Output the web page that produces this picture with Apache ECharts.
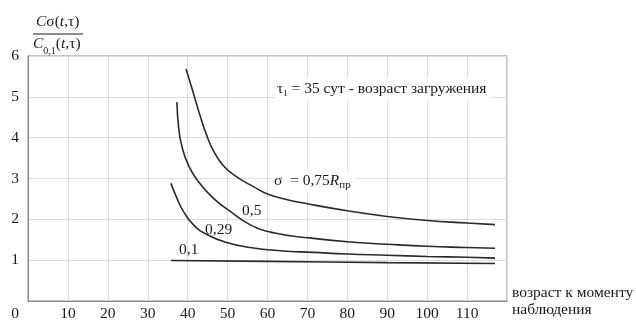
<!DOCTYPE html>
<html><head><meta charset="utf-8">
<script src="https://cdn.jsdelivr.net/npm/echarts@6/dist/echarts.min.js"></script>
<style>html,body{margin:0;padding:0;background:#fff}#c{width:636px;height:322px}</style>
</head><body><div id="c"></div>
<script>
// x-axis: age at observation (days); y-axis: ratio C_sigma / C_0.1
const xMin = 0, xMax = 120, xStep = 10;
const yMin = 0, yMax = 6, yStep = 1;

const age075 = [39.6, 41.4, 43.1, 44.8, 46.4, 48.9, 52.3, 56.5, 60, 65, 70, 80, 90, 100, 110, 117];
const val075 = [5.68, 5.10, 4.54, 4.05, 3.69, 3.32, 3.04, 2.80, 2.62, 2.48, 2.38, 2.21, 2.07, 1.97, 1.91, 1.87];

const age05 = [37.3, 37.7, 38.5, 40.2, 42.7, 46.4, 50.6, 55.6, 61.5, 70, 80, 90, 100, 110, 117];
const val05 = [4.87, 4.29, 3.81, 3.32, 2.92, 2.52, 2.20, 1.87, 1.67, 1.55, 1.45, 1.39, 1.34, 1.31, 1.29];

const age029 = [35.8, 37.3, 38.9, 41.4, 44.8, 49.8, 55.6, 63.2, 71.5, 80, 90, 100, 110, 117];
const val029 = [2.88, 2.52, 2.20, 1.87, 1.63, 1.43, 1.31, 1.23, 1.19, 1.15, 1.12, 1.09, 1.07, 1.05];

const age01 = [35.8, 60, 90, 117];
const val01 = [0.99, 0.97, 0.94, 0.92];

const seriesNames = ['0,75', '0,5', '0,29', '0,1'];

const pairs = (xs, ys) => xs.map((x, i) => [x, ys[i]]);
const FONT = 'Liberation Serif';
const TXT = '#1a1a1a';
const FS = 15.5;
const FSTR = FS + 'px "Liberation Serif"';

const chart = echarts.init(document.getElementById('c'), null, {renderer: 'canvas'});
const mkSeries = (name, xs, ys) => ({
  name, type: 'line', data: pairs(xs, ys), smooth: 0.5,
  showSymbol: false, symbol: 'none',
  lineStyle: {color: '#2a2a2a', width: 1.6}, silent: true, animation: false
});

chart.setOption({
  animation: false,
  backgroundColor: '#fff',
  grid: {left: 28, right: 129, top: 56, bottom: 18, show: true, borderColor: '#8a8a8a', borderWidth: 1},
  xAxis: {
    type: 'value', min: xMin, max: xMax, interval: xStep,
    axisLine: {show: true, lineStyle: {color: '#8a8a8a'}},
    axisTick: {show: false},
    splitLine: {show: true, lineStyle: {color: '#dedede', width: 1}},
    axisLabel: {
      fontFamily: FONT, fontSize: FS, color: TXT, margin: 5,
      formatter: v => v === xMax ? '' : (v === 0 ? '{z|0}' : String(v)),
      rich: {z: {fontFamily: FONT, fontSize: FS, color: TXT, padding: [0, 26, 0, 0]}}
    }
  },
  yAxis: {
    type: 'value', min: yMin, max: yMax, interval: yStep,
    axisLine: {show: true, lineStyle: {color: '#8a8a8a'}},
    axisTick: {show: false},
    splitLine: {show: true, lineStyle: {color: '#dedede', width: 1}},
    axisLabel: {
      fontFamily: FONT, fontSize: FS, color: TXT, margin: 9,
      formatter: v => v === 0 ? '' : String(v)
    }
  },
  series: [
    mkSeries(seriesNames[0], age075, val075),
    mkSeries(seriesNames[1], age05, val05),
    mkSeries(seriesNames[2], age029, val029),
    mkSeries(seriesNames[3], age01, val01)
  ],
  graphic: [
    // y-axis title fraction
    {type: 'text', left: 36, top: 14, z: 10, style: {
      text: '{i|C}{n|σ(}{i|t}{n|,τ)}', fill: TXT,
      rich: {i: {fontFamily: FONT, fontSize: FS, fontStyle: 'italic', fill: TXT}, n: {fontFamily: FONT, fontSize: FS, fill: TXT}}
    }},
    {type: 'line', z: 10, shape: {x1: 33, y1: 34, x2: 83, y2: 34}, style: {stroke: TXT, lineWidth: 1}},
    {type: 'text', left: 33, top: 36, z: 10, style: {
      text: '{i|C}{s|0,1}{n|(}{i|t}{n|,τ)}', fill: TXT,
      rich: {
        i: {fontFamily: FONT, fontSize: FS, fontStyle: 'italic', fill: TXT, verticalAlign: 'top', lineHeight: 16},
        n: {fontFamily: FONT, fontSize: FS, fill: TXT, verticalAlign: 'top', lineHeight: 16},
        s: {fontFamily: FONT, fontSize: 10, fill: TXT, verticalAlign: 'bottom', lineHeight: 20}
      }
    }},
    // loading age note
    {type: 'text', left: 275, top: 78, z: 10, style: {
      text: '{n|τ}{s|1}{n| = 35 сут - возраст загружения}', fill: TXT,
      backgroundColor: '#fff', padding: [3, 4, 3, 2],
      rich: {
        n: {fontFamily: FONT, fontSize: FS, fill: TXT, verticalAlign: 'top', lineHeight: 16},
        s: {fontFamily: FONT, fontSize: 9, fill: TXT, verticalAlign: 'bottom', lineHeight: 17}
      }
    }},
    // sigma label
    {type: 'text', left: 272, top: 171, z: 10, style: {
      text: '{n|σ  = 0,75}{i|R}{s|пр}', fill: TXT,
      backgroundColor: '#fff', padding: [2, 4, 2, 2],
      rich: {
        n: {fontFamily: FONT, fontSize: FS, fill: TXT, verticalAlign: 'top', lineHeight: 16},
        i: {fontFamily: FONT, fontSize: FS, fontStyle: 'italic', fill: TXT, verticalAlign: 'top', lineHeight: 16},
        s: {fontFamily: FONT, fontSize: 11, fill: TXT, verticalAlign: 'bottom', lineHeight: 18}
      }
    }},
    {type: 'text', left: 242, top: 203, z: 10, style: {text: '0,5', font: FSTR, fill: TXT}},
    {type: 'text', left: 205, top: 222, z: 10, style: {text: '0,29', font: FSTR, fill: TXT}},
    {type: 'text', left: 179, top: 242, z: 10, style: {text: '0,1', font: FSTR, fill: TXT}},
    // x-axis title
    {type: 'text', left: 512, top: 284, z: 10, style: {text: 'возраст к моменту\nнаблюдения', font: FSTR, fill: TXT, lineHeight: 17}}
  ]
});
</script>
</body></html>
